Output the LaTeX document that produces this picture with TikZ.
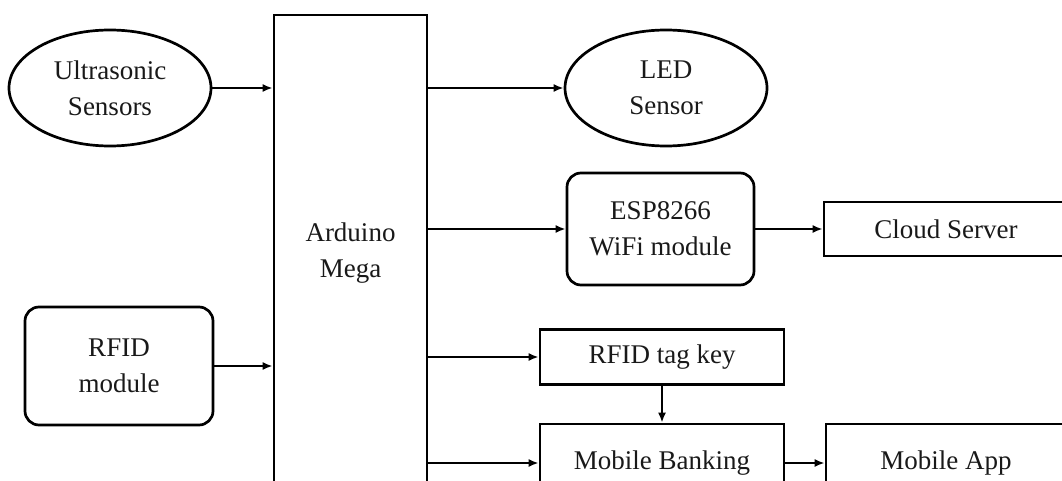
\documentclass[tikz,border=0pt]{standalone}
\usepackage{fontspec}
\setmainfont{Liberation Serif}
\usetikzlibrary{shapes.geometric,arrows.meta}
\begin{document}
\begin{tikzpicture}[x=1pt,y=-1pt,
  every node/.style={font=\fontsize{27}{36}\selectfont, align=center, line width=2.7pt, inner sep=0pt, text=black!90},
  ell/.style={draw, ellipse, minimum width=202pt, minimum height=116pt},
  rbox/.style={draw, rectangle, rounded corners=14pt},
  sbox/.style={draw, rectangle},
  arr/.style={line width=2.7pt, -{Latex[length=10pt,width=8pt]}}]
\useasboundingbox (0,0) rectangle (1062,481);
\clip (0,0) rectangle (1062,481);
\node[ell] (us) at (110,88) {Ultrasonic\\Sensors};
\node[ell] (led) at (666,88) {LED\\Sensor};
\node[rbox, minimum width=188pt, minimum height=118pt] (rfid) at (119,366) {RFID\\module};
\node[sbox, minimum width=153pt, minimum height=476pt] (ard) at (350.5,253) {Arduino\\Mega};
\node[rbox, minimum width=187pt, minimum height=112pt] (esp) at (660.5,229) {ESP8266\\WiFi module};
\node[sbox, minimum width=244pt, minimum height=54pt] (cloud) at (946,229) {Cloud Server};
\node[sbox, minimum width=244pt, minimum height=55pt] (tag) at (662,357) {RFID tag key};
\node[sbox, minimum width=244pt, minimum height=78pt] (mb) at (662,463) {Mobile Banking};
\node[sbox, minimum width=240pt, minimum height=78pt] (app) at (946,463) {Mobile App};
\draw[arr] (us.east) -- (ard.west |- us.east);
\draw[arr] (rfid.east) -- (ard.west |- rfid.east);
\draw[arr] (ard.east |- led.west) -- (led.west);
\draw[arr] (ard.east |- esp.west) -- (esp.west);
\draw[arr] (esp.east) -- (cloud.west);
\draw[arr] (ard.east |- tag.west) -- (tag.west);
\draw[arr] (ard.east |- mb.west) -- (mb.west);
\draw[arr] (tag.south) -- (mb.north);
\draw[arr] (mb.east) -- (app.west);
\end{tikzpicture}
\end{document}
